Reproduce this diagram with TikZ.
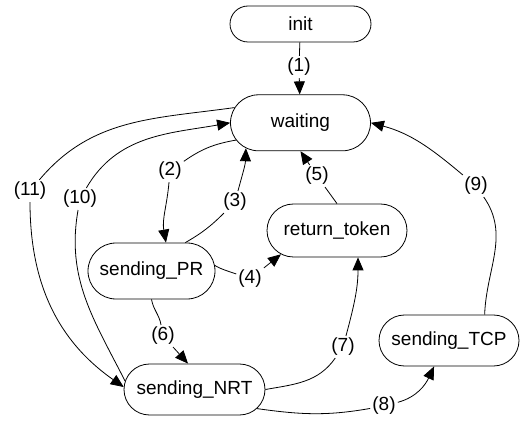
\documentclass[tikz,border=0pt]{standalone}
\usepackage{fontspec}
\setmainfont{Liberation Sans}
\usepackage{tikz}
\usetikzlibrary{shapes.misc,positioning,arrows.meta}
\newcommand{\statefont}{\fontsize{19}{22}\selectfont}
\tikzset{
	state/.style = {
		draw, rounded rectangle, rounded rectangle arc length=180,
		inner xsep=-12pt, inner ysep=0pt, minimum width=116pt, minimum height=51pt,
		line width=0.8pt, font=\statefont
	}
}
\tikzset{
	transition/.style = {
		-{Triangle[length=13pt, width=11pt]}, line width=0.8pt
	}
}
\tikzset{
	event/.style = {
		inner sep=2pt, font=\statefont
	}
}

\begin{document}
\begin{tikzpicture}[x=1pt, y=1pt]
	\useasboundingbox (0,0) rectangle (531,421);
	\node[state, minimum width=117pt, minimum height=36pt] (Init) at (300.5,397) {init};
	\node[state, minimum height=56pt, below=52pt of Init] (Waiting) {waiting};
	\node[state, minimum height=53pt] (ReturnToken) at (337,190.5) {return\_token};
	\node[state, minimum width=94pt, minimum height=56pt, inner xsep=-16.5pt] (SendingPR) at (151.5,150) {sending\_PR};
	\node[state, minimum width=117pt] (SendingNRT) at (194.5,31.5) {sending\_NRT};
	\node[state] (SendingTCP) at (449,80.5) {sending\_TCP};

	\node[event] (T1) at (299,354) {(1)};
	\node[event] (T2) at (170,250) {(2)};
	\node[event] (T3) at (235,219) {(3)};
	\node[event] (T4) at (250,142) {(4)};
	\node[event] (T5) at (317,245) {(5)};
	\node[event] (T6) at (163,85) {(6)};
	\node[event] (T7) at (343,74) {(7)};
	\node[event] (T8) at (384,15) {(8)};
	\node[event] (T9) at (476,235) {(9)};
	\node[event] (T10) at (80,222) {(10)};
	\node[event] (T11) at (30,230) {(11)};

	\draw[transition] (Init) -- (T1) -- (Waiting);
	\draw[transition] (Waiting.195) to[out=190, in=35] (T2) to[out=-95, in=100] (SendingPR.63);
	\draw[transition] (SendingPR.40) to[out=30, in=-135] (T3) to[out=75, in=-92] (Waiting.205);
	\draw[transition] (SendingPR.5) to[out=-30, in=160] (T4) -- (ReturnToken.203);
	\draw[transition] (ReturnToken.north) -- (T5) -- (Waiting.south);
	\draw[transition] (SendingPR.south) to[out=-80, in=100] (T6) -- (SendingNRT.104);
	\draw[transition] (SendingNRT.east) to[out=10, in=-125] (T7) to[out=75, in=-90] (ReturnToken.-52);
	\draw[transition] (SendingNRT.-17) to[out=-8, in=190] (T8) to[out=15, in=-115] (SendingTCP.-120);
	\draw[transition] (SendingTCP.36) to[out=88, in=-55] (T9) to[out=140, in=-15] (Waiting.east);
	\draw[transition] (SendingNRT.173) to[out=117, in=-100] (T10) to[out=60, in=190] (Waiting.west);
	\draw[transition] (Waiting.167) to[out=188, in=50] (T11) to[out=-90, in=145] (SendingNRT.178);
\end{tikzpicture}
\end{document}
